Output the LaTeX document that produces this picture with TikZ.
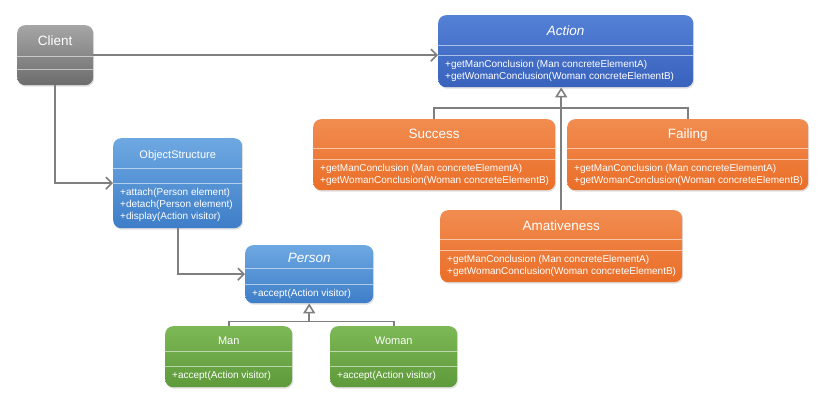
\documentclass[tikz,border=0pt]{standalone}
\usepackage{fontspec}
\setmainfont{Liberation Sans}
\usetikzlibrary{arrows.meta,calc,shadows}
\definecolor{linegray}{HTML}{7F7F7F}
\tikzset{
  x=1pt,y=-1pt,
  classbox/.style={rounded corners=8pt, draw=none, inner sep=0pt,
    drop shadow={opacity=0.25, shadow xshift=1pt, shadow yshift=-1.5pt}},
  graybox/.style={classbox, top color=gray!70, bottom color=gray!85!black},
  actionbox/.style={classbox, top color={rgb,255:red,84;green,128;blue,214}, bottom color={rgb,255:red,56;green,98;blue,188}},
  orangebox/.style={classbox, top color={rgb,255:red,241;green,140;blue,80}, bottom color={rgb,255:red,234;green,110;blue,40}},
  lightbluebox/.style={classbox, top color={rgb,255:red,110;green,168;blue,226}, bottom color={rgb,255:red,62;green,126;blue,200}},
  greenbox/.style={classbox, top color={rgb,255:red,124;green,184;blue,85}, bottom color={rgb,255:red,94;green,154;blue,58}},
  divline/.style={draw=white, draw opacity=0.55, line width=0.7pt},
  titletext/.style={text=white, font=\fontsize{13.5}{15}\selectfont, inner sep=0pt, text height=11pt, text depth=0pt},
  methtext/.style={text=white, font=\fontsize{10}{12}\selectfont, inner sep=0pt, align=left},
  assoc/.style={draw=linegray, line width=1.6pt, -{Straight Barb[length=6pt,width=12pt]}},
  inherit/.style={draw=linegray, line width=1.6pt, -{Triangle[open,length=10pt,width=12pt,fill=white]}},
  plainline/.style={draw=linegray, line width=1.6pt},
}
\newcommand\umlbox[9]{%
  \node[#5, minimum width=#3, minimum height=#4, anchor=north west] (#1) at #2 {};
  \draw[divline] ([yshift=-#7]#1.north west) -- ([yshift=-#7]#1.north east);
  \draw[divline] ([yshift=-#8]#1.north west) -- ([yshift=-#8]#1.north east);
  \node[titletext] (#1-t) at ($(#1.north)!0.5!([yshift=-#7]#1.north)$) {#6};
  \node[methtext, anchor=north west] (#1-m) at ([xshift=7pt,yshift=-#8-5pt]#1.north west) {#9};
}
\begin{document}
\begin{tikzpicture}
\useasboundingbox[fill=white] (0,0) rectangle (824,406);
\umlbox{client}{(17,25)}{76pt}{60pt}{graybox}{Client}{31pt}{44pt}{}
\umlbox{action}{(438,15)}{255pt}{72pt}{actionbox}{\itshape Action}{30pt}{40pt}{+getManConclusion (Man concreteElementA)\\+getWomanConclusion(Woman concreteElementB)}
\umlbox{success}{(313,119)}{242pt}{71pt}{orangebox}{Success}{29pt}{40pt}{+getManConclusion (Man concreteElementA)\\+getWomanConclusion(Woman concreteElementB)}
\umlbox{failing}{(567,119)}{241pt}{71pt}{orangebox}{Failing}{29pt}{40pt}{+getManConclusion (Man concreteElementA)\\+getWomanConclusion(Woman concreteElementB)}
\umlbox{amat}{(440,210)}{242pt}{72pt}{orangebox}{Amativeness}{29pt}{40pt}{+getManConclusion (Man concreteElementA)\\+getWomanConclusion(Woman concreteElementB)}
\umlbox{objs}{(113,138)}{129pt}{90pt}{lightbluebox}{\fontsize{11}{13}\selectfont ObjectStructure}{30pt}{45pt}{+attach(Person element)\\+detach(Person element)\\+display(Action visitor)}
\umlbox{person}{(245,245)}{128pt}{58pt}{lightbluebox}{\itshape Person}{23pt}{39pt}{+accept(Action visitor)}
\umlbox{man}{(165,326)}{127pt}{61pt}{greenbox}{\fontsize{11}{13}\selectfont Man}{25pt}{40pt}{+accept(Action visitor)}
\umlbox{woman}{(330,326)}{127pt}{61pt}{greenbox}{\fontsize{11}{13}\selectfont Woman}{25pt}{40pt}{+accept(Action visitor)}
% associations
\draw[assoc] (client.east) -- (client.east -| action.west);
\draw[assoc] (client.south) |- (objs.west);
\draw[assoc] (objs.south) |- (person.west);
% inheritance Action
\coordinate (aj) at (amat.north |- 0,108);
\draw[plainline] (success.north) |- (aj) -| (failing.north);
\draw[plainline] (amat.north) -- (aj);
\draw[inherit] (aj) -- (amat.north |- action.south);
% inheritance Person
\coordinate (pj) at ($(person.south)+(0,18)$);
\draw[plainline] (man.north) |- (pj) -| (woman.north);
\draw[inherit] (pj) -- (person.south);
\end{tikzpicture}
\end{document}
